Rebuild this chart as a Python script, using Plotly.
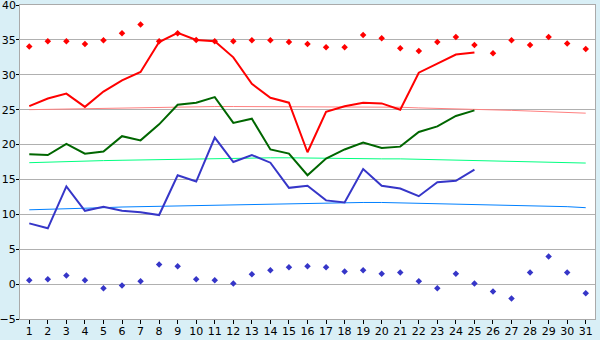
import plotly.graph_objects as go

days = list(range(1, 32))
day_labels = [str(d) for d in days]

max_temp = [25.5, 26.6, 27.3, 25.4, 27.6, 29.2, 30.4, 34.7, 36.0, 35.0,
            34.8, 32.5, 28.7, 26.7, 26.0, 18.9, 24.7, 25.5, 26.0, 25.9,
            25.0, 30.3, 31.6, 32.9, 33.2]
mean_temp = [18.6, 18.5, 20.1, 18.7, 19.0, 21.2, 20.6, 22.9, 25.7, 26.0,
             26.8, 23.1, 23.7, 19.3, 18.7, 15.6, 18.0, 19.3, 20.3, 19.5,
             19.7, 21.8, 22.6, 24.1, 24.9]
min_temp = [8.7, 8.0, 14.0, 10.5, 11.1, 10.5, 10.3, 9.9, 15.6, 14.7,
            21.0, 17.5, 18.5, 17.4, 13.8, 14.1, 12.0, 11.7, 16.5, 14.1,
            13.7, 12.6, 14.6, 14.8, 16.4]

normal_max = [25.0, 25.05, 25.1, 25.2, 25.25, 25.3, 25.35, 25.4, 25.4, 25.45,
              25.45, 25.45, 25.45, 25.45, 25.45, 25.4, 25.4, 25.4, 25.4, 25.35,
              25.35, 25.25, 25.2, 25.1, 25.0, 24.95, 24.9, 24.8, 24.7, 24.65, 24.5]
normal_mean = [17.4, 17.5, 17.6, 17.65, 17.7, 17.75, 17.8, 17.9, 17.95, 17.95,
               18.0, 18.05, 18.1, 18.1, 18.1, 18.05, 18.0, 18.0, 17.95, 17.95,
               17.95, 17.9, 17.85, 17.8, 17.75, 17.7, 17.65, 17.6, 17.55, 17.5, 17.35]
normal_min = [10.65, 10.7, 10.8, 10.9, 10.95, 11.05, 11.1, 11.2, 11.3, 11.35,
              11.4, 11.45, 11.5, 11.55, 11.6, 11.65, 11.7, 11.7, 11.7, 11.7,
              11.65, 11.6, 11.55, 11.5, 11.45, 11.4, 11.35, 11.3, 11.2, 11.1, 10.95]

record_max = [34.05, 34.8, 34.8, 34.4, 34.95, 35.95, 37.2, 34.8, 35.95, 35.0,
              34.8, 34.8, 34.95, 34.95, 34.7, 34.4, 33.95, 33.95, 35.7, 35.25,
              33.8, 33.4, 34.7, 35.4, 34.25, 33.1, 34.95, 34.25, 35.4, 34.5, 33.7]
record_min = [0.55, 0.7, 1.25, 0.55, -0.6, -0.2, 0.4, 2.8, 2.55, 0.7,
              0.55, 0.1, 1.4, 2.0, 2.4, 2.55, 2.4, 1.8, 2.0, 1.5,
              1.65, 0.4, -0.6, 1.5, 0.1, -1.05, -2.05, 1.65, 3.95, 1.65, -1.3]

y_ticks = [-5, 0, 5, 10, 15, 20, 25, 30, 35, 40]
y_tick_labels = ["\u22125", "0", "5", "10", "15", "20", "25", "30", "35", ""]
y_top_label = "40"

fig = go.Figure()

# normals (thin)
fig.add_trace(go.Scatter(x=days, y=normal_max, mode="lines",
                         line=dict(color="#ff8080", width=1)))
fig.add_trace(go.Scatter(x=days, y=normal_mean, mode="lines",
                         line=dict(color="#00ff80", width=1)))
fig.add_trace(go.Scatter(x=days, y=normal_min, mode="lines",
                         line=dict(color="#0080ff", width=1)))

# actual values (thick)
fig.add_trace(go.Scatter(x=days[:len(max_temp)], y=max_temp, mode="lines",
                         line=dict(color="#ff0000", width=2)))
fig.add_trace(go.Scatter(x=days[:len(mean_temp)], y=mean_temp, mode="lines",
                         line=dict(color="#006600", width=2)))
fig.add_trace(go.Scatter(x=days[:len(min_temp)], y=min_temp, mode="lines",
                         line=dict(color="#3636c8", width=2)))

# records (markers)
fig.add_trace(go.Scatter(x=days, y=record_max, mode="markers",
                         marker=dict(symbol="diamond", size=5, color="#ff0000")))
fig.add_trace(go.Scatter(x=days, y=record_min, mode="markers",
                         marker=dict(symbol="diamond", size=5, color="#3636c8")))

fig.update_layout(
    width=600, height=340,
    margin=dict(l=20, r=5, t=5, b=21, autoexpand=False),
    paper_bgcolor="#d9eff6",
    plot_bgcolor="#ffffff",
    showlegend=False,
    font=dict(family="DejaVu Sans", size=11, color="#000000"),
)
fig.add_annotation(
    text=y_top_label, xref="paper", yref="y", x=0, y=y_ticks[-1],
    xanchor="right", yanchor="middle", xshift=-3, showarrow=False,
    font=dict(family="DejaVu Sans", size=11, color="#000000"),
    borderpad=0,
)
fig.update_xaxes(
    range=[0.5, 31.5], tickmode="array", tickvals=days, ticktext=day_labels,
    showgrid=False, zeroline=False, automargin=False,
    showline=True, linecolor="#aaaaaa", linewidth=1, mirror=True,
    ticks="outside", ticklen=4, tickcolor="#000000", tickwidth=1,
    ticklabelstandoff=-2,
    tickfont=dict(size=11), fixedrange=True,
)
fig.update_yaxes(
    range=[-5, 40], tickmode="array", tickvals=y_ticks, ticktext=y_tick_labels,
    showgrid=True, gridcolor="#b0b0b0", gridwidth=1, zeroline=False, automargin=False,
    showline=True, linecolor="#aaaaaa", linewidth=1, mirror=True,
    ticks="outside", ticklen=3, tickcolor="#000000", tickwidth=1,
    ticklabelstandoff=-2,
    tickfont=dict(size=11), fixedrange=True,
)

fig.write_html("out.html")
